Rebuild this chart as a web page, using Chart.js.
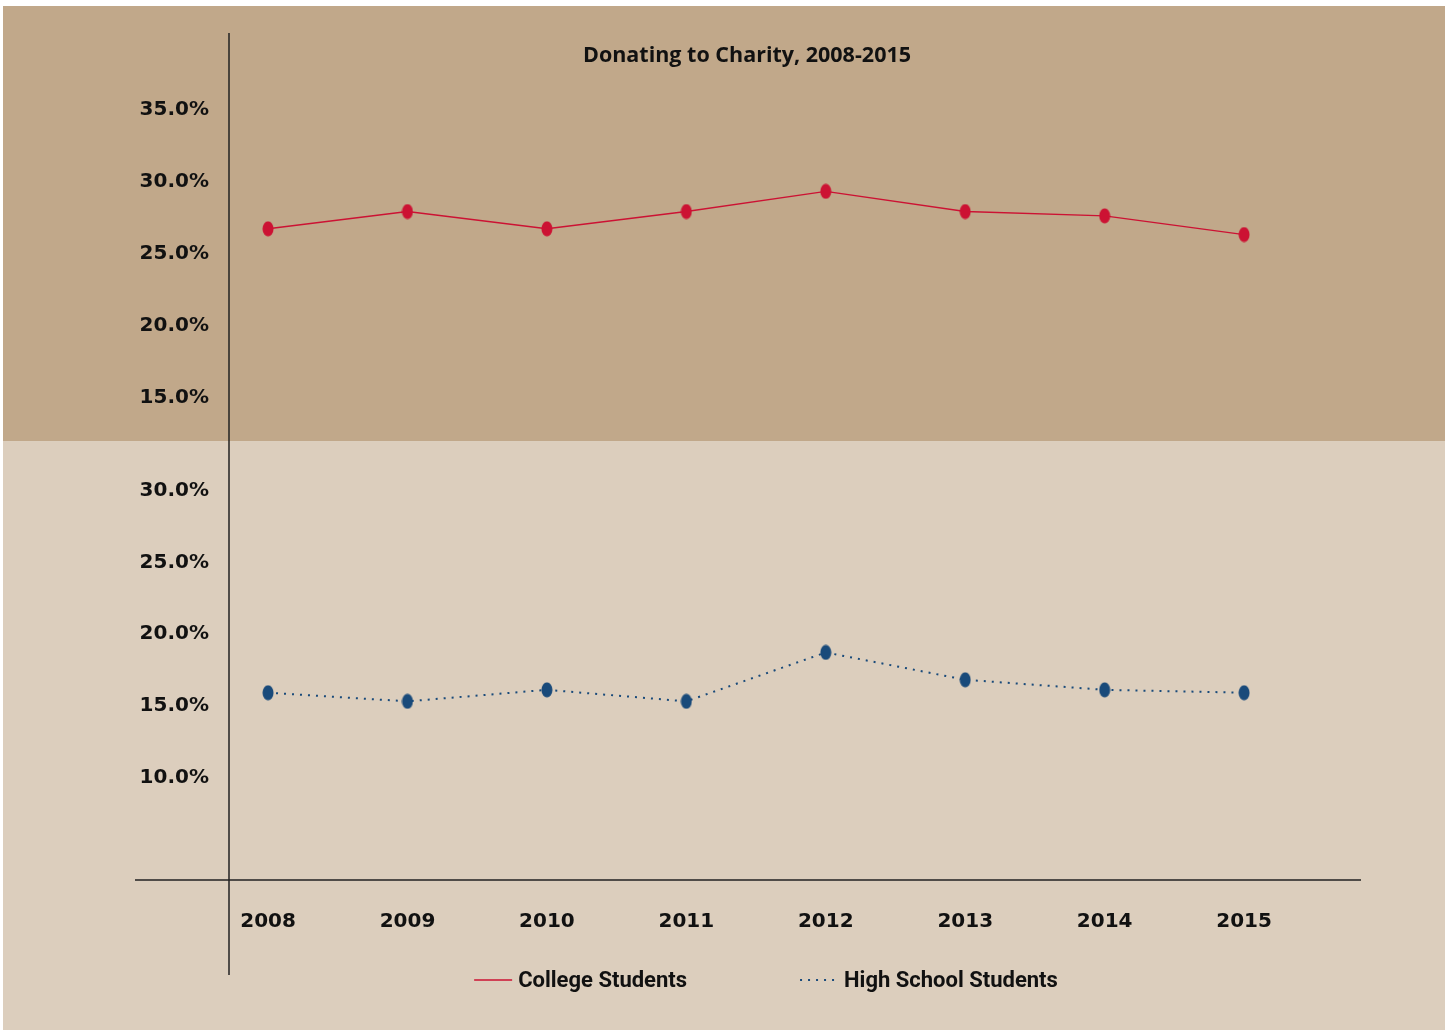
<!DOCTYPE html>
<html>
<head>
<meta charset="utf-8">
<script src="https://cdn.jsdelivr.net/npm/chart.js@4"></script>
<style>
  html, body { margin: 0; padding: 0; background: #fff; }
  canvas { display: block; }
</style>
</head>
<body>
<canvas id="chart" width="1445" height="1030"></canvas>
<script>
'use strict';

const years = [2008, 2009, 2010, 2011, 2012, 2013, 2014, 2015];
const collegeStudents = [26.6, 27.8, 26.6, 27.8, 29.2, 27.8, 27.5, 26.2];
const highSchoolStudents = [15.8, 15.2, 16.0, 15.2, 18.6, 16.7, 16.0, 15.8];
const topTicks = [15, 20, 25, 30, 35];
const bottomTicks = [10, 15, 20, 25, 30];
const seriesNames = ['College Students', 'High School Students'];
const chartTitle = 'Donating to Charity, 2008-2015';

const RED = '#cc1233';
const NAVY = '#194a7a';
const INK = '#111111';
const TICK_FONT = '"DejaVu Sans"';
const TITLE_FONT = '"Open Sans"';
const LEGEND_FONT = 'Roboto';

// points in the reference are slightly tall ellipses
function ellipseDot(color) {
  const c = document.createElement('canvas');
  c.width = 12;
  c.height = 16;
  const g = c.getContext('2d');
  g.fillStyle = color;
  g.beginPath();
  g.ellipse(6, 8, 5.5, 7.5, 0, 0, Math.PI * 2);
  g.fill();
  return c;
}

const panels = {
  id: 'panels',
  beforeDraw(chart) {
    const {ctx, width, height} = chart;
    const split = chart.scales.yTop.bottom;
    ctx.save();
    ctx.fillStyle = '#ffffff';
    ctx.fillRect(0, 0, width, height);
    ctx.fillStyle = '#c1a88a';
    ctx.fillRect(3, 6, width - 3, split - 6);
    ctx.fillStyle = '#dccebd';
    ctx.fillRect(3, split, width - 3, height - split);
    ctx.restore();
  },
  beforeDatasetsDraw(chart) {
    const {ctx, chartArea: a} = chart;
    ctx.save();
    ctx.strokeStyle = '#222222';
    ctx.lineWidth = 1.5;
    ctx.beginPath();
    ctx.moveTo(a.left, a.top - 46);
    ctx.lineTo(a.left, a.bottom + 95);
    ctx.moveTo(a.left - 94, a.bottom);
    ctx.lineTo(a.right + 96, a.bottom);
    ctx.stroke();
    ctx.restore();
  },
  afterDraw(chart) {
    // legend with a wide gap between the two entries
    const {ctx, chartArea: a} = chart;
    const sets = chart.data.datasets;
    ctx.save();
    ctx.font = 'bold 22px ' + LEGEND_FONT;
    ctx.textBaseline = 'middle';
    const sample = 38, gapText = 6, gapItem = 113;
    const widths = sets.map(ds => sample + gapText + ctx.measureText(ds.label).width);
    const total = widths.reduce((s, w) => s + w, 0) + gapItem * (sets.length - 1);
    let x = (a.left + a.right) / 2 + 19 - total / 2;
    const y = 980;
    sets.forEach((ds, i) => {
      ctx.strokeStyle = ds.borderColor;
      ctx.lineWidth = ds.borderWidth;
      ctx.setLineDash(ds.borderDash || []);
      ctx.beginPath();
      ctx.moveTo(x, y);
      ctx.lineTo(x + sample, y);
      ctx.stroke();
      ctx.setLineDash([]);
      ctx.fillStyle = INK;
      ctx.fillText(ds.label, x + sample + gapText, y + 1);
      x += widths[i] + gapItem;
    });
    ctx.restore();
  }
};

const pct = v => v.toFixed(1) + '%';
const tickFont = {family: TICK_FONT, size: 20, weight: 'bold'};

new Chart(document.getElementById('chart'), {
  type: 'line',
  data: {
    datasets: [{
      label: seriesNames[0],
      data: years.map((yr, i) => ({x: yr, y: collegeStudents[i]})),
      yAxisID: 'yTop',
      borderColor: RED,
      borderWidth: 1.3,
      pointStyle: ellipseDot(RED),
      tension: 0,
      clip: false
    }, {
      label: seriesNames[1],
      data: years.map((yr, i) => ({x: yr, y: highSchoolStudents[i]})),
      yAxisID: 'yBot',
      borderColor: NAVY,
      borderWidth: 2,
      borderDash: [2, 6],
      pointStyle: ellipseDot(NAVY),
      tension: 0,
      clip: false
    }]
  },
  options: {
    responsive: false,
    animation: false,
    layout: { padding: {top: 6, left: 0, right: 180, bottom: 80} },
    plugins: {
      legend: { display: false },
      tooltip: { enabled: false },
      title: {
        display: true,
        text: chartTitle,
        fullSize: false,
        color: INK,
        font: {family: TITLE_FONT, size: 21.5, weight: 'bold'},
        padding: {top: 36.5, bottom: 10.7}
      }
    },
    scales: {
      x: {
        type: 'linear',
        min: 2007.72,
        max: 2015.15,
        grid: { display: false, drawTicks: false },
        border: { display: false },
        afterFit: axis => { axis.height = 70; },
        afterBuildTicks: axis => { axis.ticks = years.map(v => ({value: v})); },
        ticks: { padding: 30, color: INK, font: tickFont, maxRotation: 0, callback: v => String(v) }
      },
      yBot: {
        type: 'linear',
        position: 'left',
        stack: 'panels',
        stackWeight: 439,
        min: 2.78,
        max: 33.26,
        grid: { display: false, drawTicks: false },
        border: { display: false },
        afterFit: axis => { axis.width = 229; },
        afterBuildTicks: axis => { axis.ticks = bottomTicks.map(v => ({value: v})); },
        ticks: { padding: 20, labelOffset: 2, color: INK, font: tickFont, callback: pct }
      },
      yTop: {
        type: 'linear',
        position: 'left',
        stack: 'panels',
        stackWeight: 363,
        min: 11.81,
        max: 37.01,
        grid: { display: false, drawTicks: false },
        border: { display: false },
        afterFit: axis => { axis.width = 229; },
        afterBuildTicks: axis => { axis.ticks = topTicks.map(v => ({value: v})); },
        ticks: { padding: 20, labelOffset: 2, color: INK, font: tickFont, callback: pct }
      }
    }
  },
  plugins: [panels]
});
</script>
</body>
</html>
